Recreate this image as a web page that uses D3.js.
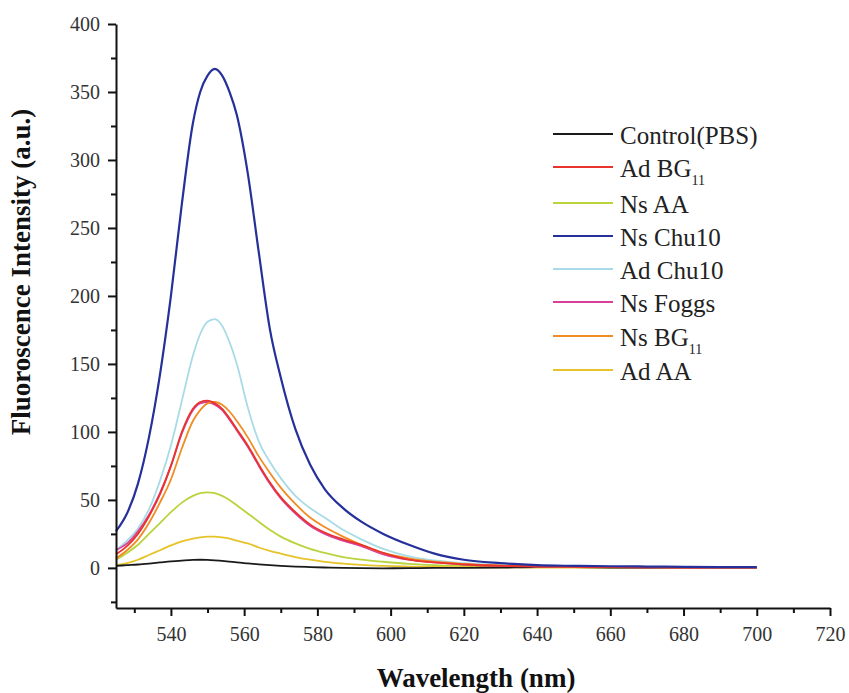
<!DOCTYPE html>
<html>
<head>
<meta charset="utf-8">
<script src="https://cdn.jsdelivr.net/npm/d3@7"></script>
<style>
  body { margin: 0; background: #fff; }
  svg { display: block; }
</style>
</head>
<body>
<div class="chart"></div>
<script>
// wavelength grid (nm) shared by all spectra
const wavelengths = [525, 528, 531, 534, 537, 540, 543, 546, 548, 550, 552, 554, 556, 558, 561, 564, 567, 570, 574, 578, 582, 587, 592, 598, 605, 612, 620, 630, 640, 650, 660, 670, 680, 690, 700]

const seriesNames = ['Control(PBS)', 'Ad BG11', 'Ns AA', 'Ns Chu10', 'Ad Chu10', 'Ns Foggs', 'Ns BG11', 'Ad AA']

const controlPBS = [1.5, 2, 2.5, 3.2, 4, 4.8, 5.4, 5.9, 6, 5.9, 5.6, 5.2, 4.6, 4, 3.3, 2.6, 2, 1.5, 1, 0.6, 0.3, 0, -0.2, -0.3, -0.2, 0, 0, 0.2, 0.5, 0.5, 0.3, 0.2, 0.2, 0.2, 0.2]
const adBG11 = [10, 16, 25, 38, 54, 75, 100, 117, 122, 123, 121, 117, 110, 102, 90, 76, 63, 52, 41, 32, 26, 21, 17, 11, 6, 4, 2.5, 1.5, 1, 0.7, 0.5, 0.4, 0.3, 0.3, 0.2]
const nsAA = [6, 11, 17, 25, 33, 41, 48, 53, 55, 55.5, 55, 53, 50, 46, 40, 34, 28, 23, 18, 14, 11, 8, 6, 4.5, 3, 2, 1.5, 1, 0.7, 0.5, 0.4, 0.3, 0.3, 0.2, 0.2]
const nsChu10 = [27, 40, 62, 96, 142, 200, 268, 327, 350, 362, 367, 362, 350, 333, 290, 232, 176, 140, 102, 76, 58, 44, 34, 25, 17, 10.5, 6, 3.5, 2, 1.5, 1.2, 1, 0.8, 0.6, 0.5]
const adChu10 = [13, 20, 29, 43, 64, 90, 123, 156, 172, 181, 183, 178, 166, 150, 118, 93, 78, 66, 53, 44, 37, 28, 21, 14, 8.5, 5.5, 3.5, 2, 1.2, 0.8, 0.6, 0.5, 0.4, 0.3, 0.3]
const nsFoggs = [13, 18, 27, 39, 55, 75, 99, 116, 121, 122, 120, 116, 109, 101, 89, 75, 62, 51, 40, 31, 25, 20, 16, 10, 6, 4, 2.5, 1.5, 1, 0.7, 0.5, 0.4, 0.3, 0.3, 0.2]
const nsBG11 = [7, 13, 21, 33, 48, 65, 88, 108, 116, 121, 122, 120, 115, 108, 96, 82, 70, 59, 47, 37, 30, 23, 17, 11, 7, 4.5, 3, 1.8, 1.2, 0.8, 0.6, 0.5, 0.4, 0.3, 0.3]
const adAA = [2, 3.5, 6, 9.5, 13, 16.5, 19.5, 21.5, 22.5, 23, 23, 22.5, 21.5, 20, 18, 15, 12.5, 10.5, 8, 6, 4.5, 3.2, 2.2, 1.5, 1, 0.7, 0.5, 0.4, 0.3, 0.3, 0.3, 0.3, 0.3, 0.3, 0.3]

const seriesValues = [controlPBS, adBG11, nsAA, nsChu10, adChu10, nsFoggs, nsBG11, adAA]

const xMajorTicks = [540, 560, 580, 600, 620, 640, 660, 680, 700, 720]
const xMinorTicks = [530, 550, 570, 590, 610, 630, 650, 670, 690, 710]
const yMajorTicks = [0, 50, 100, 150, 200, 250, 300, 350, 400]
const yMinorTicks = [-25, 25, 75, 125, 175, 225, 275, 325, 375]

const colors = ['#1a1a1a', '#e8342c', '#b9d43c', '#25309a', '#a9dbe6', '#d8409a', '#f08c24', '#e6c329']
// drawing order (last on top)
const drawOrder = [2, 7, 0, 4, 5, 6, 1, 3]
// legend row positions
const legendRows = [134, 167, 203, 236, 269, 302, 336, 370]

const width = 849
const height = 693
const plotLeft = 116, plotRight = 830, plotTop = 24, plotBottom = 608

const svg = d3.select('.chart')
    .append('svg')
    .attr('width', width)
    .attr('height', height)
    .style('background-color', '#fff')

const xScale = d3.scaleLinear().domain([525, 720]).range([plotLeft, plotRight])
const yScale = d3.scaleLinear().domain([-29.5, 400]).range([plotBottom, plotTop])

// curves
const line = d3.line()
    .x((d) => xScale(d[0]))
    .y((d) => yScale(d[1]))
    .curve(d3.curveMonotoneX)

drawOrder.forEach((i) => {
    const pts = wavelengths.map((w, k) => [w, seriesValues[i][k]])
    svg.append('path')
        .attr('d', line(pts))
        .attr('fill', 'none')
        .attr('stroke', colors[i])
        .attr('stroke-width', i === 3 ? 2.2 : 1.8)
})

// axes
const fontSerif = '"Liberation Serif", "Times New Roman", serif'

const xAxis = svg.append('g').attr('transform', `translate(0, ${plotBottom})`)
    .call(d3.axisBottom(xScale).tickValues(xMajorTicks).tickSize(8).tickSizeOuter(0).tickFormat(d3.format('d')))
const xMinor = svg.append('g').attr('transform', `translate(0, ${plotBottom})`)
    .call(d3.axisBottom(xScale).tickValues(xMinorTicks).tickSize(5).tickSizeOuter(0).tickFormat(''))
xMinor.select('.domain').remove()

const yAxis = svg.append('g').attr('transform', `translate(${plotLeft}, 0)`)
    .call(d3.axisLeft(yScale).tickValues(yMajorTicks).tickSize(8).tickSizeOuter(0))
const yMinor = svg.append('g').attr('transform', `translate(${plotLeft}, 0)`)
    .call(d3.axisLeft(yScale).tickValues(yMinorTicks).tickSize(5).tickSizeOuter(0).tickFormat(''))
yMinor.select('.domain').remove()

svg.selectAll('.domain').attr('stroke', '#111').attr('stroke-width', 2)
svg.selectAll('.tick line').attr('stroke', '#111').attr('stroke-width', 2)
svg.selectAll('.tick text')
    .style('font-family', fontSerif)
    .style('font-size', '20px')
    .attr('fill', '#333')
xAxis.selectAll('.tick text').attr('y', 14).attr('dy', '0.95em')
yAxis.selectAll('.tick text').attr('x', -16)

// axis titles
svg.append('text')
    .attr('x', 476)
    .attr('y', 687)
    .attr('text-anchor', 'middle')
    .style('font-family', fontSerif)
    .style('font-weight', 'bold')
    .style('font-size', '27px')
    .attr('fill', '#111')
    .text('Wavelength (nm)')

svg.append('text')
    .attr('transform', 'translate(30, 272) rotate(-90)')
    .attr('text-anchor', 'middle')
    .style('font-family', fontSerif)
    .style('font-weight', 'bold')
    .style('font-size', '27px')
    .attr('fill', '#111')
    .text('Fluoroscence Intensity (a.u.)')

// legend
const legend = svg.append('g')
seriesNames.forEach((name, i) => {
    const y = legendRows[i]
    legend.append('line')
        .attr('x1', 553).attr('x2', 613)
        .attr('y1', y).attr('y2', y)
        .attr('stroke', colors[i])
        .attr('stroke-width', 1.8)
    const t = legend.append('text')
        .attr('x', 620)
        .attr('y', y)
        .attr('dy', '0.38em')
        .style('font-family', fontSerif)
        .style('font-size', '25px')
        .attr('fill', '#222')
    if (name.endsWith('BG11')) {
        t.append('tspan').text(name.replace('11', ''))
        t.append('tspan').attr('dy', '8').style('font-size', '14px').text('11')
    } else {
        t.text(name)
    }
})
</script>
</body>
</html>
